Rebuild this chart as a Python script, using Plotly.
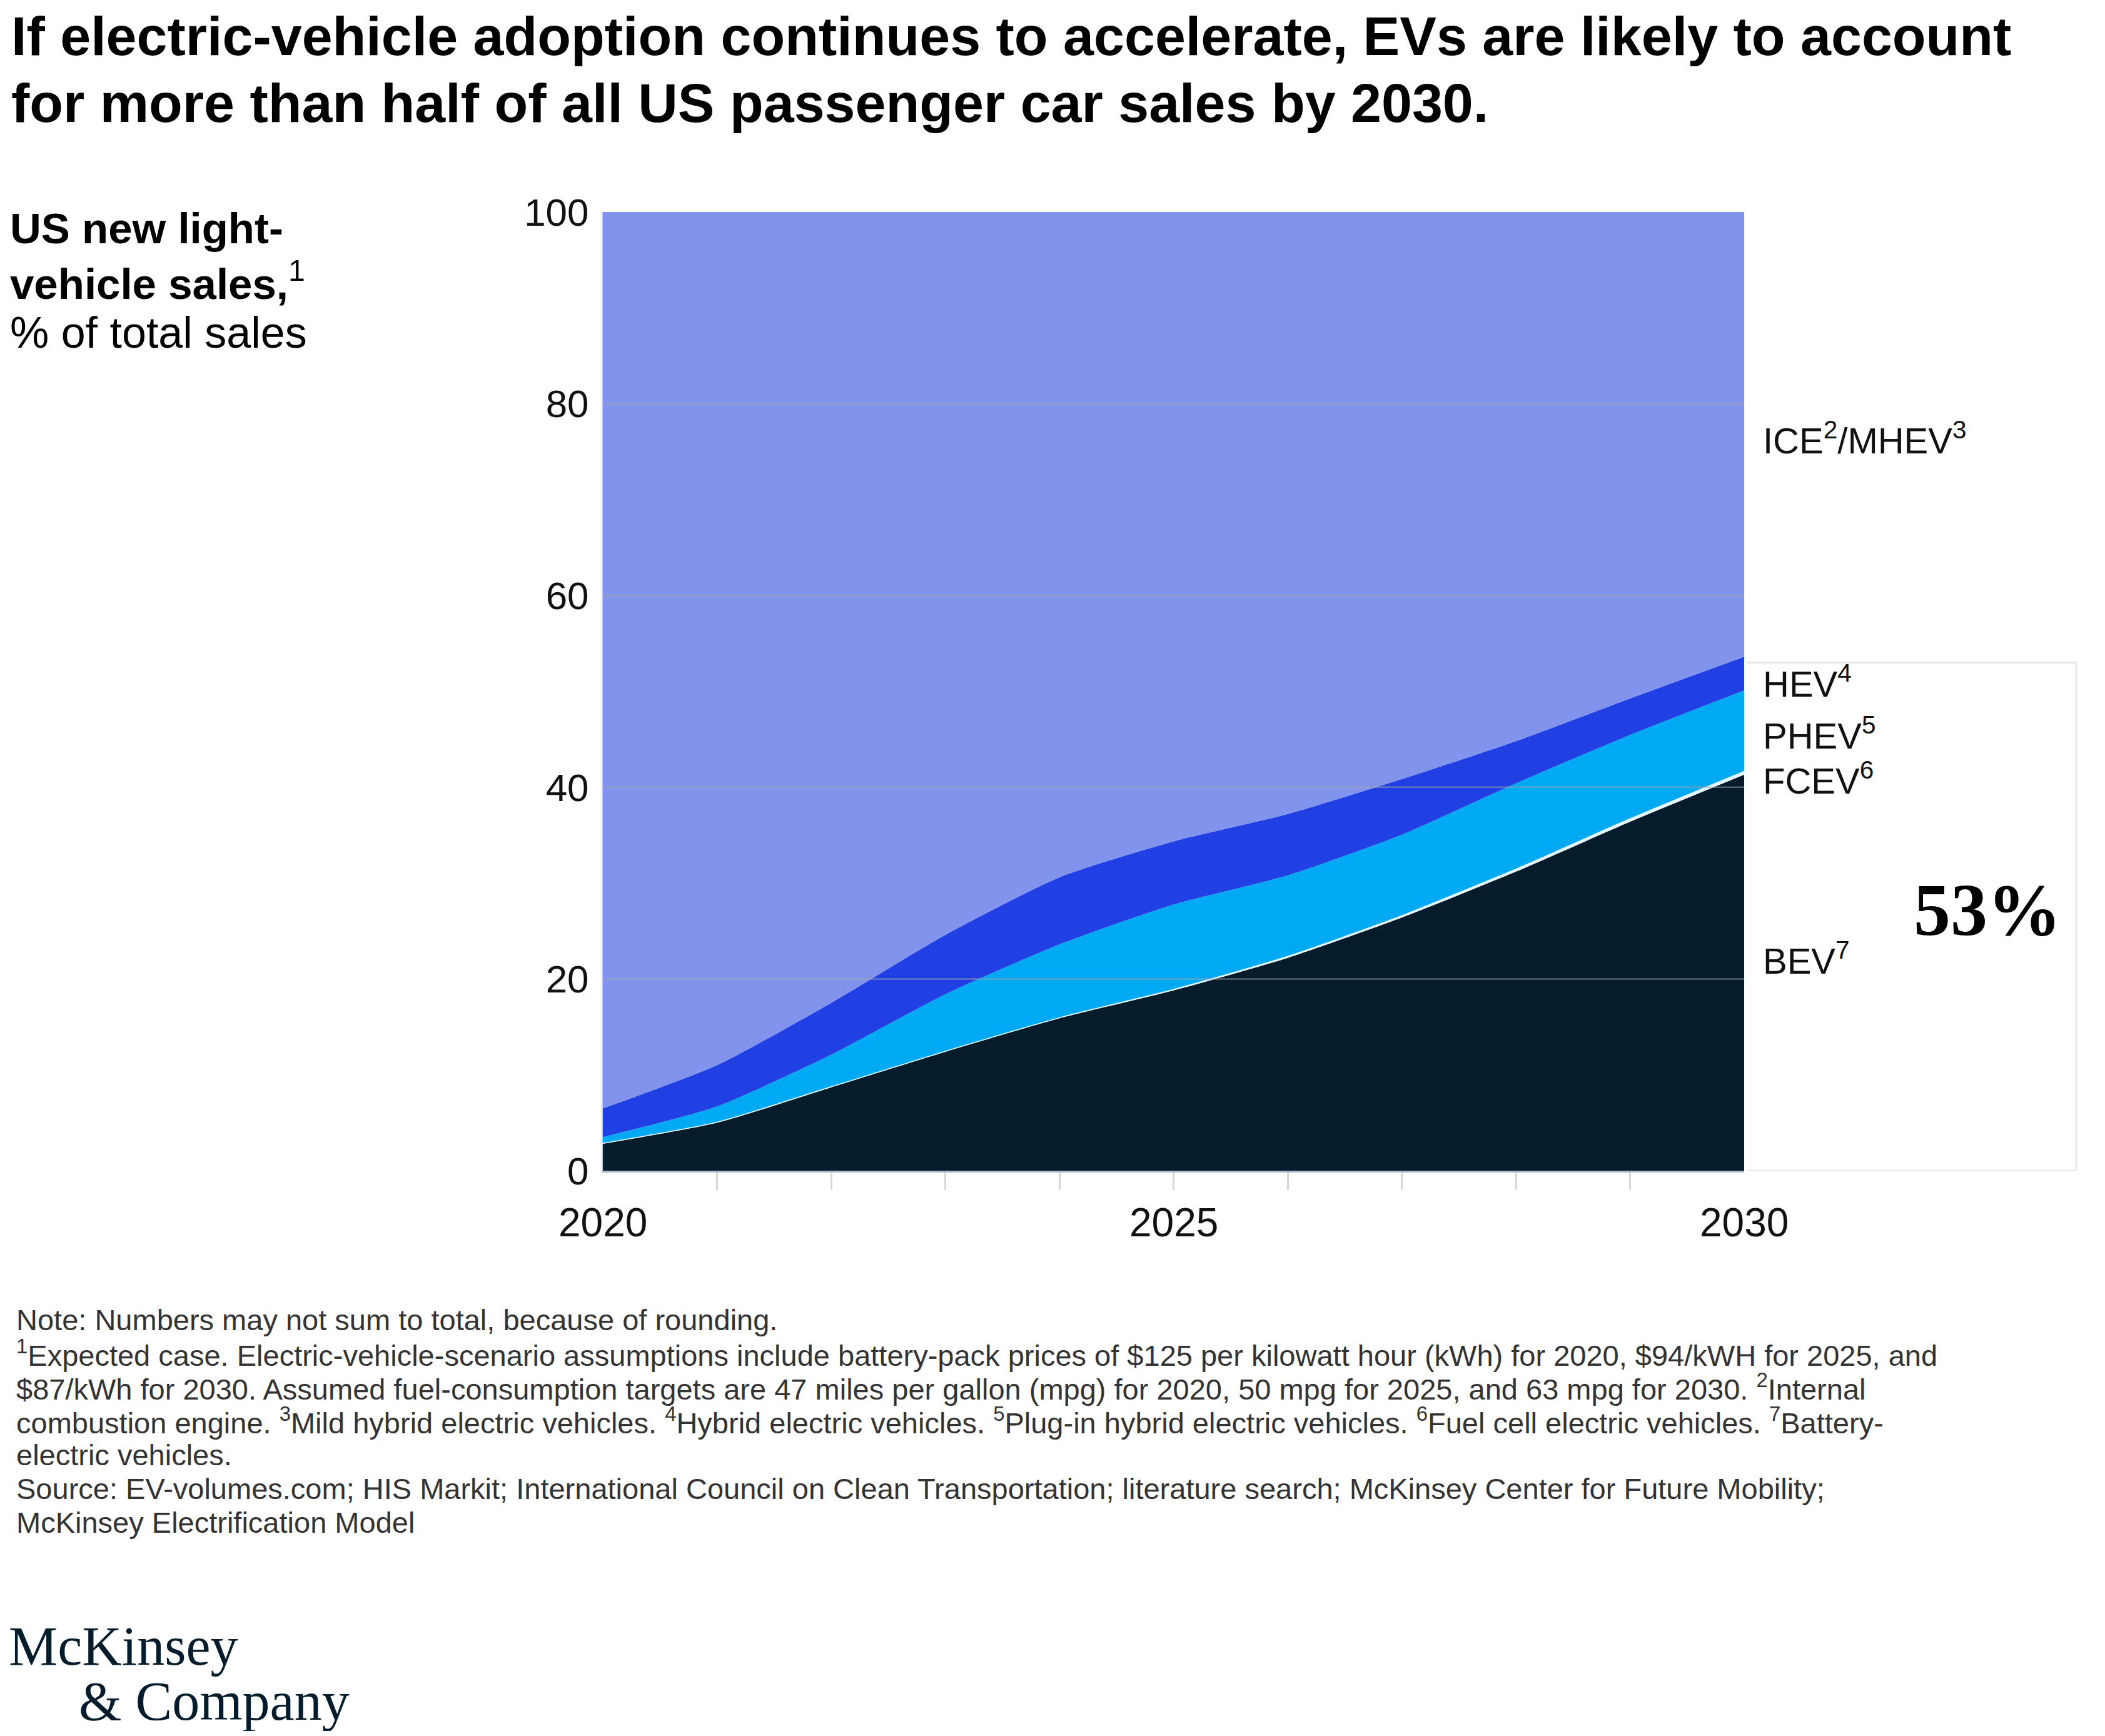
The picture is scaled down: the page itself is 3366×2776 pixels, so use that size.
import plotly.graph_objects as go

# ---------------- data ----------------
years = [2020, 2021, 2022, 2023, 2024, 2025, 2026, 2027, 2028, 2029, 2030]
bev = [2.8, 5.0, 8.7, 12.4, 15.9, 18.8, 22.2, 26.4, 31.2, 36.4, 41.3]
fcev = [0.1, 0.1, 0.1, 0.1, 0.1, 0.15, 0.2, 0.25, 0.3, 0.35, 0.4]
phev = [0.6, 1.6, 3.3, 5.9, 7.6, 8.8, 8.4, 8.4, 8.9, 8.7, 8.4]
hev = [3.0, 4.3, 5.4, 6.2, 7.0, 6.6, 6.4, 5.8, 4.4, 3.8, 3.5]
ice = [93.5, 89.0, 82.5, 75.4, 69.4, 65.7, 62.8, 59.2, 55.2, 50.8, 46.4]

series_names = ["BEV", "FCEV", "PHEV", "HEV", "ICE/MHEV"]
series_labels = ["BEV<sup>7</sup>", "FCEV<sup>6</sup>", "PHEV<sup>5</sup>",
                 "HEV<sup>4</sup>", "ICE<sup>2</sup>/MHEV<sup>3</sup>"]
x_label_years = [2020, 2025, 2030]
x_label_text = ["2020", "2025", "2030"]
x_minor_tick_years = [2021, 2022, 2023, 2024, 2025, 2026, 2027, 2028, 2029]
y_tick_vals = [0, 20, 40, 60, 80, 100]
grid_vals = [20, 40, 60, 80]
total_ev_label = "53%"
total_ev_share = 53

title_lines = [
    "If electric-vehicle adoption continues to accelerate, EVs are likely to account",
    "for more than half of all US passenger car sales by 2030.",
]
footnotes = [
    "Note: Numbers may not sum to total, because of rounding.",
    "<sup>1</sup>Expected case. Electric-vehicle-scenario assumptions include battery-pack prices of $125 per kilowatt hour (kWh) for 2020, $94/kWH for 2025, and",
    "$87/kWh for 2030. Assumed fuel-consumption targets are 47 miles per gallon (mpg) for 2020, 50 mpg for 2025, and 63 mpg for 2030. <sup>2</sup>Internal",
    "combustion engine. <sup>3</sup>Mild hybrid electric vehicles. <sup>4</sup>Hybrid electric vehicles. <sup>5</sup>Plug-in hybrid electric vehicles. <sup>6</sup>Fuel cell electric vehicles. <sup>7</sup>Battery-",
    "electric vehicles.",
    "Source: EV-volumes.com; HIS Markit; International Council on Clean Transportation; literature search; McKinsey Center for Future Mobility;",
    "McKinsey Electrification Model",
]

# ---------------- styling ----------------
colors = ["#051C2C", "#E4F6FF", "#00A9F4", "#2140E3", "#8293EE"]
SANS = "Liberation Sans, Arial, sans-serif"
SERIF = "Liberation Serif, Times New Roman, serif"

W, H = 3366, 2776          # browser window
OFF = 8                    # default page body margin
FW, FH = W - 2 * OFF, H - 2 * OFF
L, R, T, B = 964, 2789, 339, 1872   # plot area in window pixels


def px(x):
    return (x - L) / (R - L)


def py(y):
    return (B - y) / (B - T)


fig = go.Figure()
for vals, name, col in zip([bev, fcev, phev, hev, ice], series_names, colors):
    fig.add_trace(go.Scatter(
        x=years, y=vals, name=name, mode="lines", stackgroup="one",
        line=dict(width=0, shape="spline", smoothing=0.6),
        fillcolor=col, hoverinfo="x+y+name",
    ))

shapes = []
for gv in grid_vals:
    shapes.append(dict(type="line", xref="paper", yref="y", x0=0, x1=1, y0=gv, y1=gv,
                       line=dict(color="rgba(165,165,165,0.5)", width=2.5), layer="above"))
# bracket box for the EV total
bx0, bx1 = px(2793), px(3320)
shapes.append(dict(type="path", xref="paper", yref="y",
                   path=f"M {bx0},{total_ev_share} L {bx1},{total_ev_share} L {bx1},0 L {bx0},0",
                   line=dict(color="#e6e6e6", width=3)))

annotations = []
# title
for i, line in enumerate(title_lines):
    annotations.append(dict(text=f"<b>{line}</b>", xref="paper", yref="paper",
                            x=px(16), y=py(58 + 107 * i), xanchor="left", yanchor="middle",
                            showarrow=False, font=dict(family=SANS, size=88, color="#000000")))
# y-axis description
annotations.append(dict(text="<b>US new light-</b>", xref="paper", yref="paper",
                        x=px(14), y=py(365), xanchor="left", yanchor="middle", showarrow=False,
                        font=dict(family=SANS, size=69, color="#000000")))
annotations.append(dict(text="<b>vehicle sales,</b><sup>1</sup>", xref="paper", yref="paper",
                        x=px(14), y=py(449), xanchor="left", yanchor="middle", showarrow=False,
                        font=dict(family=SANS, size=69, color="#000000")))
annotations.append(dict(text="% of total sales", xref="paper", yref="paper",
                        x=px(14), y=py(532), xanchor="left", yanchor="middle", showarrow=False,
                        font=dict(family=SANS, size=70, color="#000000")))
# x-axis labels (no tick marks at the ends in the reference)
for yr, txt in zip(x_label_years, x_label_text):
    annotations.append(dict(text=txt, xref="x", yref="paper", x=yr, y=py(1955),
                            xanchor="center", yanchor="middle", showarrow=False,
                            font=dict(family=SANS, size=64, color="#111111")))
# series labels
label_y = {"ICE/MHEV": 700, "HEV": 1089, "PHEV": 1172, "FCEV": 1244, "BEV": 1532}
for name, lab in zip(series_names, series_labels):
    annotations.append(dict(text=lab, xref="paper", yref="paper", x=px(2817), y=py(label_y[name]),
                            xanchor="left", yanchor="middle", showarrow=False,
                            font=dict(family=SANS, size=58, color="#111111")))
# total EV share
annotations.append(dict(text=f"<b>{total_ev_label}</b>", xref="paper", yref="paper",
                        x=px(3178), y=py(1455), xanchor="center", yanchor="middle", showarrow=False,
                        font=dict(family=SERIF, size=118, color="#000000")))
# footnotes
for i, line in enumerate(footnotes):
    annotations.append(dict(text=line, xref="paper", yref="paper", x=px(24), y=py(2110 + 54 * i),
                            xanchor="left", yanchor="middle", showarrow=False,
                            font=dict(family=SANS, size=47, color="#333333")))
# logo
annotations.append(dict(text="McKinsey", xref="paper", yref="paper", x=px(12), y=py(2632),
                        xanchor="left", yanchor="middle", showarrow=False,
                        font=dict(family=SERIF, size=88, color="#051C2C")))
annotations.append(dict(text="&amp; Company", xref="paper", yref="paper", x=px(124), y=py(2720),
                        xanchor="left", yanchor="middle", showarrow=False,
                        font=dict(family=SERIF, size=88, color="#051C2C")))

fig.update_layout(
    width=FW, height=FH,
    margin=dict(l=L - OFF, r=(FW + OFF) - R, t=T - OFF, b=(FH + OFF) - B, pad=0),
    paper_bgcolor="white", plot_bgcolor="white",
    showlegend=False,
    shapes=shapes, annotations=annotations,
    font=dict(family=SANS, color="#000000"),
    xaxis=dict(range=[2020, 2030], tickvals=x_minor_tick_years, showticklabels=False,
               ticks="outside", ticklen=28, tickwidth=3, tickcolor="#d6d6d6",
               showgrid=False, zeroline=False, showline=True, linecolor="#a9b8d0", linewidth=3,
               fixedrange=True),
    yaxis=dict(range=[0, 100], tickvals=y_tick_vals, ticks="", showgrid=False, zeroline=False,
               showline=True, linecolor="#c3cbe8", linewidth=2,
               tickfont=dict(family=SANS, size=62, color="#111111"),
               ticklabelstandoff=8, fixedrange=True),
)

fig.write_html("out.html")
